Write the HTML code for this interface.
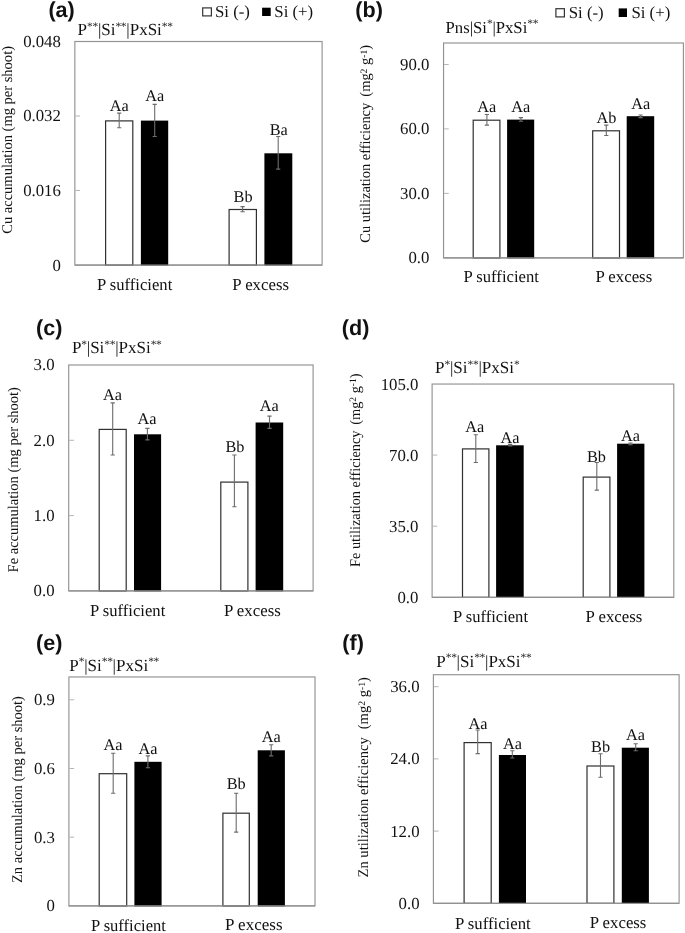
<!DOCTYPE html>
<html lang="en">
<head>
<meta charset="utf-8">
<title>Cu, Fe and Zn accumulation and utilization efficiency</title>
<style>
html,body{margin:0;padding:0;background:#fff;}
body{width:685px;height:933px;overflow:hidden;}
svg{display:block;will-change:transform;filter:grayscale(1);font-family:"Liberation Serif",serif;fill:#111;text-rendering:geometricPrecision;}
</style>
</head>
<body>
<svg width="685" height="933" viewBox="0 0 685 933">
<rect x="0" y="0" width="685" height="933" fill="#fff"/>
<g>
<rect x="74.85" y="41.5" width="247.25" height="223.55" fill="#fff" stroke="#929292" stroke-width="1.15"/>
<text x="60.9" y="270.5" text-anchor="end" font-size="16.8">0</text>
<line x1="75.35" y1="190.5" x2="80.05" y2="190.5" stroke="#adadad" stroke-width="0.9"/>
<text x="60.9" y="195.95" text-anchor="end" font-size="16.8">0.016</text>
<line x1="75.35" y1="116" x2="80.05" y2="116" stroke="#adadad" stroke-width="0.9"/>
<text x="60.9" y="121.45" text-anchor="end" font-size="16.8">0.032</text>
<text x="60.9" y="46.95" text-anchor="end" font-size="16.8">0.048</text>
<rect x="105.6" y="120.9" width="27.2" height="144.15" fill="#fff" stroke="#303030" stroke-width="1.2"/>
<rect x="140.9" y="120.6" width="27.3" height="144.85" fill="#000"/>
<rect x="229.1" y="209.5" width="27.3" height="55.55" fill="#fff" stroke="#303030" stroke-width="1.2"/>
<rect x="264.4" y="153.3" width="27.9" height="112.15" fill="#000"/>
<line x1="74.85" y1="265.05" x2="322.1" y2="265.05" stroke="#929292" stroke-width="1.15"/>
<path d="M119.2 113.1V127.8M117.1 113.1H121.3M117.1 127.8H121.3" stroke="#6c6c6c" stroke-width="1.1" fill="none"/>
<path d="M154.7 104.4V136.5M152.6 104.4H156.8M152.6 136.5H156.8" stroke="#6c6c6c" stroke-width="1.1" fill="none"/>
<path d="M242.6 206.6V211.7M240.5 206.6H244.7M240.5 211.7H244.7" stroke="#6c6c6c" stroke-width="1.1" fill="none"/>
<path d="M278.2 136.5V169.1M276.1 136.5H280.3M276.1 169.1H280.3" stroke="#6c6c6c" stroke-width="1.1" fill="none"/>
<text x="119.25" y="110.9" text-anchor="middle" font-size="16.3">Aa</text>
<text x="154.65" y="100.9" text-anchor="middle" font-size="16.3">Aa</text>
<text x="243.1" y="202.2" text-anchor="middle" font-size="16.3">Bb</text>
<text x="278.75" y="134.5" text-anchor="middle" font-size="16.3">Ba</text>
<text x="97" y="289.8" font-size="16.8" textLength="75.3" lengthAdjust="spacingAndGlyphs">P sufficient</text>
<text x="232.2" y="289.6" font-size="16.8" textLength="56.9" lengthAdjust="spacingAndGlyphs">P excess</text>
<text x="77.6" y="34.7" font-size="17">P<tspan dy="-5.2" font-size="11.5" letter-spacing="-0.35">**</tspan><tspan dy="5.2">|Si</tspan><tspan dy="-5.2" font-size="11.5" letter-spacing="-0.35">**</tspan><tspan dy="5.2">|PxSi</tspan><tspan dy="-5.2" font-size="11.5" letter-spacing="-0.35">**</tspan></text>
<text x="48.4" y="17.1" font-family="'Liberation Sans', sans-serif" font-weight="bold" font-size="21.6">(a)</text>
<text transform="translate(12.2 233.8) rotate(-90)" font-size="14.8" textLength="187.8" lengthAdjust="spacingAndGlyphs">Cu accumulation (mg per shoot)</text>
<rect x="202.7" y="7.9" width="8.7" height="8" fill="#fff" stroke="#333" stroke-width="1.2"/>
<text x="215" y="16.8" font-size="16.8">Si (-)</text>
<rect x="262.1" y="7.7" width="8.6" height="8.3" fill="#000"/>
<text x="274.3" y="16.8" font-size="16.8">Si (+)</text>
</g>
<g>
<rect x="443.55" y="43" width="239.85" height="214.9" fill="#fff" stroke="#929292" stroke-width="1.15"/>
<text x="429.4" y="263.35" text-anchor="end" font-size="16.8">0.0</text>
<line x1="444.05" y1="193.4" x2="448.75" y2="193.4" stroke="#adadad" stroke-width="0.9"/>
<text x="429.4" y="198.85" text-anchor="end" font-size="16.8">30.0</text>
<line x1="444.05" y1="128.9" x2="448.75" y2="128.9" stroke="#adadad" stroke-width="0.9"/>
<text x="429.4" y="134.35" text-anchor="end" font-size="16.8">60.0</text>
<line x1="444.05" y1="64.5" x2="448.75" y2="64.5" stroke="#adadad" stroke-width="0.9"/>
<text x="429.4" y="69.95" text-anchor="end" font-size="16.8">90.0</text>
<rect x="473.2" y="120.2" width="26.7" height="137.7" fill="#fff" stroke="#303030" stroke-width="1.2"/>
<rect x="507.1" y="119.6" width="27.1" height="138.7" fill="#000"/>
<rect x="592.7" y="130.8" width="26.8" height="127.1" fill="#fff" stroke="#303030" stroke-width="1.2"/>
<rect x="626.7" y="116.2" width="27.5" height="142.1" fill="#000"/>
<line x1="443.55" y1="257.9" x2="683.4" y2="257.9" stroke="#929292" stroke-width="1.15"/>
<path d="M486.9 114.5V125.1M484.8 114.5H489M484.8 125.1H489" stroke="#6c6c6c" stroke-width="1.1" fill="none"/>
<path d="M520.9 117.6V121.3M518.8 117.6H523M518.8 121.3H523" stroke="#6c6c6c" stroke-width="1.1" fill="none"/>
<path d="M606.3 125.1V135.5M604.2 125.1H608.4M604.2 135.5H608.4" stroke="#6c6c6c" stroke-width="1.1" fill="none"/>
<path d="M640.6 115V117.6M638.5 115H642.7M638.5 117.6H642.7" stroke="#6c6c6c" stroke-width="1.1" fill="none"/>
<text x="486.75" y="111.9" text-anchor="middle" font-size="16.3">Aa</text>
<text x="520.75" y="111.9" text-anchor="middle" font-size="16.3">Aa</text>
<text x="606.45" y="123.1" text-anchor="middle" font-size="16.3">Ab</text>
<text x="640.75" y="108.8" text-anchor="middle" font-size="16.3">Aa</text>
<text x="463.5" y="282.2" font-size="16.8" textLength="75.4" lengthAdjust="spacingAndGlyphs">P sufficient</text>
<text x="595.4" y="282.2" font-size="16.8" textLength="56.8" lengthAdjust="spacingAndGlyphs">P excess</text>
<text x="445.6" y="32.6" font-size="16.7">Pns|Si<tspan dy="-5.2" font-size="11.5" letter-spacing="-0.35">*</tspan><tspan dy="5.2">|PxSi</tspan><tspan dy="-5.2" font-size="11.5" letter-spacing="-0.35">**</tspan></text>
<text x="355.3" y="17.4" font-family="'Liberation Sans', sans-serif" font-weight="bold" font-size="21.6">(b)</text>
<text transform="translate(370 242.7) rotate(-90)" font-size="14.8" textLength="197.7" lengthAdjust="spacingAndGlyphs">Cu utilization efficiency <tspan dx="2.6">(</tspan>mg<tspan dy="-3.2" font-size="9.8">2</tspan><tspan dy="3.2"> g</tspan><tspan dy="-3.2" font-size="9.8">-1</tspan><tspan dy="3.2">)</tspan></text>
<rect x="555.9" y="8.7" width="8.5" height="8.2" fill="#fff" stroke="#333" stroke-width="1.2"/>
<text x="568.7" y="17.8" font-size="16.8">Si (-)</text>
<rect x="618.7" y="8.4" width="8.3" height="8.6" fill="#000"/>
<text x="631.4" y="17.8" font-size="16.8">Si (+)</text>
</g>
<g>
<rect x="68.7" y="365" width="244.4" height="225.9" fill="#fff" stroke="#929292" stroke-width="1.15"/>
<text x="54.6" y="596.35" text-anchor="end" font-size="16.8">0.0</text>
<line x1="69.2" y1="515.6" x2="73.9" y2="515.6" stroke="#adadad" stroke-width="0.9"/>
<text x="54.6" y="521.05" text-anchor="end" font-size="16.8">1.0</text>
<line x1="69.2" y1="440.3" x2="73.9" y2="440.3" stroke="#adadad" stroke-width="0.9"/>
<text x="54.6" y="445.75" text-anchor="end" font-size="16.8">2.0</text>
<text x="54.6" y="370.45" text-anchor="end" font-size="16.8">3.0</text>
<rect x="99.2" y="429.4" width="27" height="161.5" fill="#fff" stroke="#303030" stroke-width="1.2"/>
<rect x="134" y="434.3" width="27.1" height="157" fill="#000"/>
<rect x="220.8" y="482.1" width="27.1" height="108.8" fill="#fff" stroke="#303030" stroke-width="1.2"/>
<rect x="255.6" y="422.5" width="27.6" height="168.8" fill="#000"/>
<line x1="68.7" y1="590.9" x2="313.1" y2="590.9" stroke="#929292" stroke-width="1.15"/>
<path d="M112.7 402.9V455M110.6 402.9H114.8M110.6 455H114.8" stroke="#6c6c6c" stroke-width="1.1" fill="none"/>
<path d="M147.4 428.4V439.9M145.3 428.4H149.5M145.3 439.9H149.5" stroke="#6c6c6c" stroke-width="1.1" fill="none"/>
<path d="M234.4 455V506.7M232.3 455H236.5M232.3 506.7H236.5" stroke="#6c6c6c" stroke-width="1.1" fill="none"/>
<path d="M269.5 416.1V428.4M267.4 416.1H271.6M267.4 428.4H271.6" stroke="#6c6c6c" stroke-width="1.1" fill="none"/>
<text x="112.6" y="399.7" text-anchor="middle" font-size="16.3">Aa</text>
<text x="147.1" y="423.7" text-anchor="middle" font-size="16.3">Aa</text>
<text x="234.9" y="452.4" text-anchor="middle" font-size="16.3">Bb</text>
<text x="269.3" y="411.4" text-anchor="middle" font-size="16.3">Aa</text>
<text x="90" y="616" font-size="16.8" textLength="75.3" lengthAdjust="spacingAndGlyphs">P sufficient</text>
<text x="223.9" y="616" font-size="16.8" textLength="56.9" lengthAdjust="spacingAndGlyphs">P excess</text>
<text x="71.9" y="353.1" font-size="17">P<tspan dy="-5.2" font-size="11.5" letter-spacing="-0.35">*</tspan><tspan dy="5.2">|Si</tspan><tspan dy="-5.2" font-size="11.5" letter-spacing="-0.35">**</tspan><tspan dy="5.2">|PxSi</tspan><tspan dy="-5.2" font-size="11.5" letter-spacing="-0.35">**</tspan></text>
<text x="36.1" y="334.9" font-family="'Liberation Sans', sans-serif" font-weight="bold" font-size="21.6">(c)</text>
<text transform="translate(18.2 572.4) rotate(-90)" font-size="14.8" textLength="185.3" lengthAdjust="spacingAndGlyphs">Fe accumulation (mg per shoot)</text>
</g>
<g>
<rect x="432.1" y="384.05" width="241.7" height="213.25" fill="#fff" stroke="#929292" stroke-width="1.15"/>
<text x="418.4" y="602.75" text-anchor="end" font-size="16.8">0.0</text>
<line x1="432.6" y1="526.2" x2="437.3" y2="526.2" stroke="#adadad" stroke-width="0.9"/>
<text x="418.4" y="531.65" text-anchor="end" font-size="16.8">35.0</text>
<line x1="432.6" y1="455.1" x2="437.3" y2="455.1" stroke="#adadad" stroke-width="0.9"/>
<text x="418.4" y="460.55" text-anchor="end" font-size="16.8">70.0</text>
<text x="418.4" y="389.5" text-anchor="end" font-size="16.8">105.0</text>
<rect x="462.5" y="448.9" width="26.4" height="148.4" fill="#fff" stroke="#303030" stroke-width="1.2"/>
<rect x="496.1" y="445.3" width="27.6" height="152.4" fill="#000"/>
<rect x="583.2" y="477.1" width="26.7" height="120.2" fill="#fff" stroke="#303030" stroke-width="1.2"/>
<rect x="617.1" y="443.7" width="27.3" height="154" fill="#000"/>
<line x1="432.1" y1="597.3" x2="673.8" y2="597.3" stroke="#929292" stroke-width="1.15"/>
<path d="M475.8 434.7V462.5M473.7 434.7H477.9M473.7 462.5H477.9" stroke="#6c6c6c" stroke-width="1.1" fill="none"/>
<path d="M510.2 444.4V446M508.1 444.4H512.3M508.1 446H512.3" stroke="#6c6c6c" stroke-width="1.1" fill="none"/>
<path d="M596.8 462.5V490.1M594.7 462.5H598.9M594.7 490.1H598.9" stroke="#6c6c6c" stroke-width="1.1" fill="none"/>
<path d="M630.5 443V444.8M628.4 443H632.6M628.4 444.8H632.6" stroke="#6c6c6c" stroke-width="1.1" fill="none"/>
<text x="474.8" y="431.9" text-anchor="middle" font-size="16.3">Aa</text>
<text x="509.9" y="442.5" text-anchor="middle" font-size="16.3">Aa</text>
<text x="596.5" y="462.1" text-anchor="middle" font-size="16.3">Bb</text>
<text x="630.6" y="440.6" text-anchor="middle" font-size="16.3">Aa</text>
<text x="453" y="622.1" font-size="16.8" textLength="75" lengthAdjust="spacingAndGlyphs">P sufficient</text>
<text x="585.5" y="622.1" font-size="16.8" textLength="56.8" lengthAdjust="spacingAndGlyphs">P excess</text>
<text x="435.1" y="372.9" font-size="17">P<tspan dy="-5.2" font-size="11.5" letter-spacing="-0.35">*</tspan><tspan dy="5.2">|Si</tspan><tspan dy="-5.2" font-size="11.5" letter-spacing="-0.35">**</tspan><tspan dy="5.2">|PxSi</tspan><tspan dy="-5.2" font-size="11.5" letter-spacing="-0.35">*</tspan></text>
<text x="341.8" y="334.9" font-family="'Liberation Sans', sans-serif" font-weight="bold" font-size="21.6">(d)</text>
<text transform="translate(359.5 567) rotate(-90)" font-size="14.8" textLength="193.5" lengthAdjust="spacingAndGlyphs">Fe utilization efficiency <tspan dx="2.2">(</tspan>mg<tspan dy="-3.2" font-size="9.8">2</tspan><tspan dy="3.2"> g</tspan><tspan dy="-3.2" font-size="9.8">-1</tspan><tspan dy="3.2">)</tspan></text>
</g>
<g>
<rect x="68.9" y="676.95" width="246.1" height="228.95" fill="#fff" stroke="#929292" stroke-width="1.15"/>
<text x="54.9" y="911.35" text-anchor="end" font-size="16.8">0</text>
<line x1="69.4" y1="837.2" x2="74.1" y2="837.2" stroke="#adadad" stroke-width="0.9"/>
<text x="54.9" y="842.65" text-anchor="end" font-size="16.8">0.3</text>
<line x1="69.4" y1="768.5" x2="74.1" y2="768.5" stroke="#adadad" stroke-width="0.9"/>
<text x="54.9" y="773.95" text-anchor="end" font-size="16.8">0.6</text>
<line x1="69.4" y1="699.8" x2="74.1" y2="699.8" stroke="#adadad" stroke-width="0.9"/>
<text x="54.9" y="705.25" text-anchor="end" font-size="16.8">0.9</text>
<rect x="99.2" y="773.7" width="27.5" height="132.2" fill="#fff" stroke="#303030" stroke-width="1.2"/>
<rect x="134.4" y="761.8" width="27.2" height="144.5" fill="#000"/>
<rect x="222.9" y="813.2" width="26.4" height="92.7" fill="#fff" stroke="#303030" stroke-width="1.2"/>
<rect x="257.7" y="750.3" width="27.2" height="156" fill="#000"/>
<line x1="68.9" y1="905.9" x2="315" y2="905.9" stroke="#929292" stroke-width="1.15"/>
<path d="M113.2 753.3V793.2M111.1 753.3H115.3M111.1 793.2H115.3" stroke="#6c6c6c" stroke-width="1.1" fill="none"/>
<path d="M147.9 755.9V767.7M145.8 755.9H150M145.8 767.7H150" stroke="#6c6c6c" stroke-width="1.1" fill="none"/>
<path d="M236.2 793.2V832.1M234.1 793.2H238.3M234.1 832.1H238.3" stroke="#6c6c6c" stroke-width="1.1" fill="none"/>
<path d="M271.2 744.8V755.9M269.1 744.8H273.3M269.1 755.9H273.3" stroke="#6c6c6c" stroke-width="1.1" fill="none"/>
<text x="113.1" y="750" text-anchor="middle" font-size="16.3">Aa</text>
<text x="148" y="753.6" text-anchor="middle" font-size="16.3">Aa</text>
<text x="236.2" y="789" text-anchor="middle" font-size="16.3">Bb</text>
<text x="271.2" y="742" text-anchor="middle" font-size="16.3">Aa</text>
<text x="90.9" y="930.6" font-size="16.8" textLength="75" lengthAdjust="spacingAndGlyphs">P sufficient</text>
<text x="225" y="930.4" font-size="16.8" textLength="57.5" lengthAdjust="spacingAndGlyphs">P excess</text>
<text x="69.3" y="670.6" font-size="17">P<tspan dy="-5.2" font-size="11.5" letter-spacing="-0.35">*</tspan><tspan dy="5.2">|Si</tspan><tspan dy="-5.2" font-size="11.5" letter-spacing="-0.35">**</tspan><tspan dy="5.2">|PxSi</tspan><tspan dy="-5.2" font-size="11.5" letter-spacing="-0.35">**</tspan></text>
<text x="36.1" y="649.5" font-family="'Liberation Sans', sans-serif" font-weight="bold" font-size="21.6">(e)</text>
<text transform="translate(21.8 883) rotate(-90)" font-size="14.8" textLength="186.9" lengthAdjust="spacingAndGlyphs">Zn accumulation (mg per shoot)</text>
</g>
<g>
<rect x="433.4" y="674.7" width="245.7" height="228.6" fill="#fff" stroke="#929292" stroke-width="1.15"/>
<text x="419.6" y="908.75" text-anchor="end" font-size="16.8">0.0</text>
<line x1="433.9" y1="831.1" x2="438.6" y2="831.1" stroke="#adadad" stroke-width="0.9"/>
<text x="419.6" y="836.55" text-anchor="end" font-size="16.8">12.0</text>
<line x1="433.9" y1="758.9" x2="438.6" y2="758.9" stroke="#adadad" stroke-width="0.9"/>
<text x="419.6" y="764.35" text-anchor="end" font-size="16.8">24.0</text>
<line x1="433.9" y1="686.7" x2="438.6" y2="686.7" stroke="#adadad" stroke-width="0.9"/>
<text x="419.6" y="692.15" text-anchor="end" font-size="16.8">36.0</text>
<rect x="464.1" y="742.6" width="27.1" height="160.7" fill="#fff" stroke="#303030" stroke-width="1.2"/>
<rect x="498.9" y="755" width="27.1" height="148.7" fill="#000"/>
<rect x="587" y="766" width="26.9" height="137.3" fill="#fff" stroke="#303030" stroke-width="1.2"/>
<rect x="621.8" y="747.7" width="27.1" height="156" fill="#000"/>
<line x1="433.4" y1="903.3" x2="679.1" y2="903.3" stroke="#929292" stroke-width="1.15"/>
<path d="M477.7 730V753.6M475.6 730H479.8M475.6 753.6H479.8" stroke="#6c6c6c" stroke-width="1.1" fill="none"/>
<path d="M512.3 750.7V758M510.2 750.7H514.4M510.2 758H514.4" stroke="#6c6c6c" stroke-width="1.1" fill="none"/>
<path d="M600.5 753.8V777.2M598.4 753.8H602.6M598.4 777.2H602.6" stroke="#6c6c6c" stroke-width="1.1" fill="none"/>
<path d="M635.7 743.7V750.7M633.6 743.7H637.8M633.6 750.7H637.8" stroke="#6c6c6c" stroke-width="1.1" fill="none"/>
<text x="478" y="728.8" text-anchor="middle" font-size="16.3">Aa</text>
<text x="512.4" y="749" text-anchor="middle" font-size="16.3">Aa</text>
<text x="600.6" y="751.9" text-anchor="middle" font-size="16.3">Bb</text>
<text x="635.6" y="739.6" text-anchor="middle" font-size="16.3">Aa</text>
<text x="454.9" y="928.6" font-size="16.8" textLength="75.8" lengthAdjust="spacingAndGlyphs">P sufficient</text>
<text x="589.7" y="928.4" font-size="16.8" textLength="56.7" lengthAdjust="spacingAndGlyphs">P excess</text>
<text x="436.3" y="666.6" font-size="17">P<tspan dy="-5.2" font-size="11.5" letter-spacing="-0.35">**</tspan><tspan dy="5.2">|Si</tspan><tspan dy="-5.2" font-size="11.5" letter-spacing="-0.35">**</tspan><tspan dy="5.2">|PxSi</tspan><tspan dy="-5.2" font-size="11.5" letter-spacing="-0.35">**</tspan></text>
<text x="342.3" y="649.5" font-family="'Liberation Sans', sans-serif" font-weight="bold" font-size="21.6">(f)</text>
<text transform="translate(367.8 877.4) rotate(-90)" font-size="14.8" textLength="200.2" lengthAdjust="spacingAndGlyphs">Zn utilization efficiency&#160; <tspan dx="0.8">(</tspan>mg<tspan dy="-3.2" font-size="9.8">2</tspan><tspan dy="3.2"> g</tspan><tspan dy="-3.2" font-size="9.8">-1</tspan><tspan dy="3.2">)</tspan></text>
</g>
</svg>
</body>
</html>
